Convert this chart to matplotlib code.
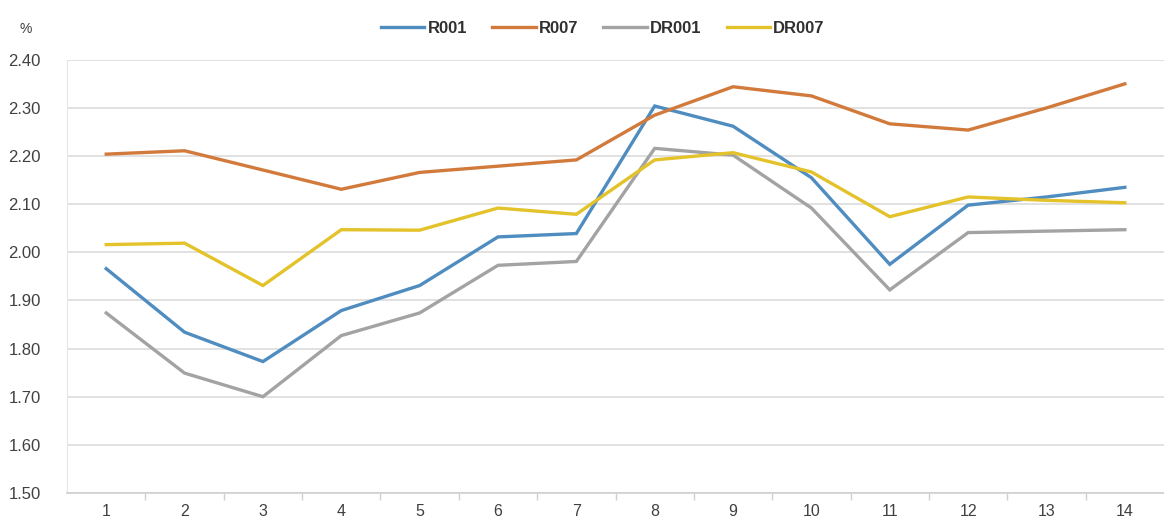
import matplotlib
matplotlib.use("Agg")
import matplotlib.pyplot as plt
from matplotlib.ticker import FixedLocator, FormatStrFormatter

plt.rcParams["font.family"] = ["Liberation Sans", "DejaVu Sans"]

# period index along the x axis
periods = list(range(1, 15))

r001 = [1.966, 1.834, 1.773, 1.879, 1.931, 2.032, 2.039, 2.304, 2.262, 2.155,
        1.975, 2.098, 2.115, 2.135]
r007 = [2.204, 2.211, 2.171, 2.131, 2.166, 2.179, 2.192, 2.285, 2.344, 2.325,
        2.267, 2.254, 2.300, 2.350]
dr001 = [1.874, 1.749, 1.700, 1.827, 1.874, 1.973, 1.981, 2.216, 2.202, 2.092,
         1.922, 2.041, 2.044, 2.047]
dr007 = [2.016, 2.019, 1.931, 2.047, 2.046, 2.092, 2.079, 2.192, 2.207,
         2.167, 2.074, 2.115, 2.108, 2.103]

series = [("R001", r001, "#4f8cc0"),
          ("R007", r007, "#d27a3c"),
          ("DR001", dr001, "#a3a3a3"),
          ("DR007", dr007, "#e3c22a")]

yticks = [1.50, 1.60, 1.70, 1.80, 1.90, 2.00, 2.10, 2.20, 2.30, 2.40]

TXT = "#404040"
GRID = "#dcdcdc"

fig = plt.figure(figsize=(11.64, 5.20), dpi=100)
ax = fig.add_axes([0.0576, 0.052, 0.9424, 0.833])

for name, vals, col in series:
    ax.plot(periods, vals, color=col, linewidth=2.4, label=name,
            solid_joinstyle="miter", zorder=3)

ax.set_xlim(0.5, 14.5)
ax.set_ylim(yticks[0], yticks[-1])
ax.yaxis.set_major_locator(FixedLocator(yticks))
ax.yaxis.set_major_formatter(FormatStrFormatter("%.2f"))
ax.set_xticks(periods)
ax.set_xticks([p + 0.5 for p in periods[:-1]], minor=True)

ax.grid(axis="y", color=GRID, linewidth=1.2, zorder=0)
for side in ("top", "right"):
    ax.spines[side].set_visible(False)
ax.spines["left"].set_color("#e6e6e6")
ax.spines["bottom"].set_color("#cfcfcf")
ax.spines["bottom"].set_linewidth(1.2)

ax.tick_params(axis="y", length=0, pad=19, labelsize=12, labelcolor=TXT)
ax.tick_params(axis="x", which="major", length=0, pad=8, labelsize=11.5,
               labelcolor=TXT)
ax.tick_params(axis="x", which="minor", length=5, color="#cfcfcf", width=1)

fig.text(0.017, 0.945, "%", fontsize=10, color=TXT, ha="left", va="center")

leg = fig.legend(loc="center", bbox_to_anchor=(0.518, 0.946), ncol=4,
                 frameon=False, handlelength=2.6, handletextpad=0.2,
                 columnspacing=1.5, prop={"weight": "bold", "size": 12})
for t in leg.get_texts():
    t.set_color("#303030")

fig.savefig("out.png", dpi=100, facecolor="white")
